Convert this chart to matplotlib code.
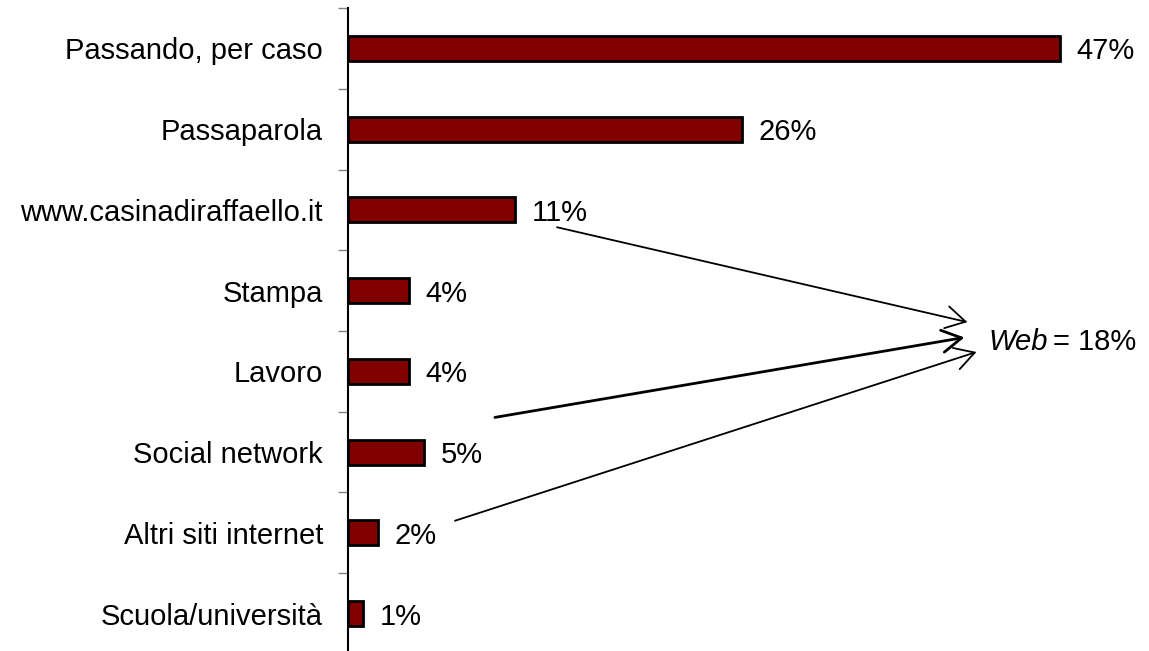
import matplotlib.pyplot as plt

categories = [
    "Passando, per caso",
    "Passaparola",
    "www.casinadiraffaello.it",
    "Stampa",
    "Lavoro",
    "Social network",
    "Altri siti internet",
    "Scuola/università",
]
values = [47, 26, 11, 4, 4, 5, 2, 1]
web_sources = ["www.casinadiraffaello.it", "Social network", "Altri siti internet"]

plt.rcParams["font.family"] = ["Liberation Sans", "DejaVu Sans"]

fig = plt.figure(figsize=(11.49, 6.51), dpi=100)
ax = fig.add_axes([0.3029, -0.0046, 0.659, 0.9923])

pos = list(range(len(categories)))
ax.barh(pos, values, height=0.31, color="#800000", edgecolor="black", linewidth=2)

ax.set_xlim(0, 50)
ax.set_ylim(len(categories) - 0.5, -0.5)

for i, v in enumerate(values):
    ax.annotate(f"{v}%", (v, i), xytext=(12, 0), textcoords="offset points",
                va="center_baseline", ha="left", fontsize=21)

ax.set_yticks(pos)
ax.set_yticklabels(categories, fontsize=21, va="center_baseline")
ax.set_yticks([p - 0.5 for p in pos] + [len(pos) - 0.5], minor=True)
ax.tick_params(axis="y", which="major", length=0, pad=18)
ax.tick_params(axis="y", which="minor", length=7, width=1, color="#808080")
ax.set_xticks([])

for side in ["top", "right", "bottom"]:
    ax.spines[side].set_visible(False)
ax.spines["left"].set_linewidth(1.5)

# arrows from the web-related labels to the total
tips = [(40.9, 3.39), (40.7, 3.58), (41.5, 3.76)]
tails = [(2.8, 0.215), (4.7, -0.43), (5.06, -0.15)]
widths = [1.3, 2.0, 1.3]
for name, tip, (dx, dy), lw in zip(web_sources, tips, tails, widths):
    i = categories.index(name)
    ax.annotate("", xy=tip, xytext=(values[i] + dx, i + dy),
                arrowprops=dict(arrowstyle="->,head_length=0.7,head_width=0.4",
                                mutation_scale=20, lw=lw, color="black",
                                shrinkA=0, shrinkB=0))

web_total = sum(values[categories.index(n)] for n in web_sources)
t = ax.text(42.3, 3.6, "Web", style="italic", fontsize=21,
            va="center_baseline", ha="left")
fig.canvas.draw()
bb = t.get_window_extent().transformed(ax.transData.inverted())
ax.text(bb.x1 + 0.3, 3.6, f"= {web_total}%", fontsize=21,
        va="center_baseline", ha="left")

fig.savefig("out.png", dpi=100)
